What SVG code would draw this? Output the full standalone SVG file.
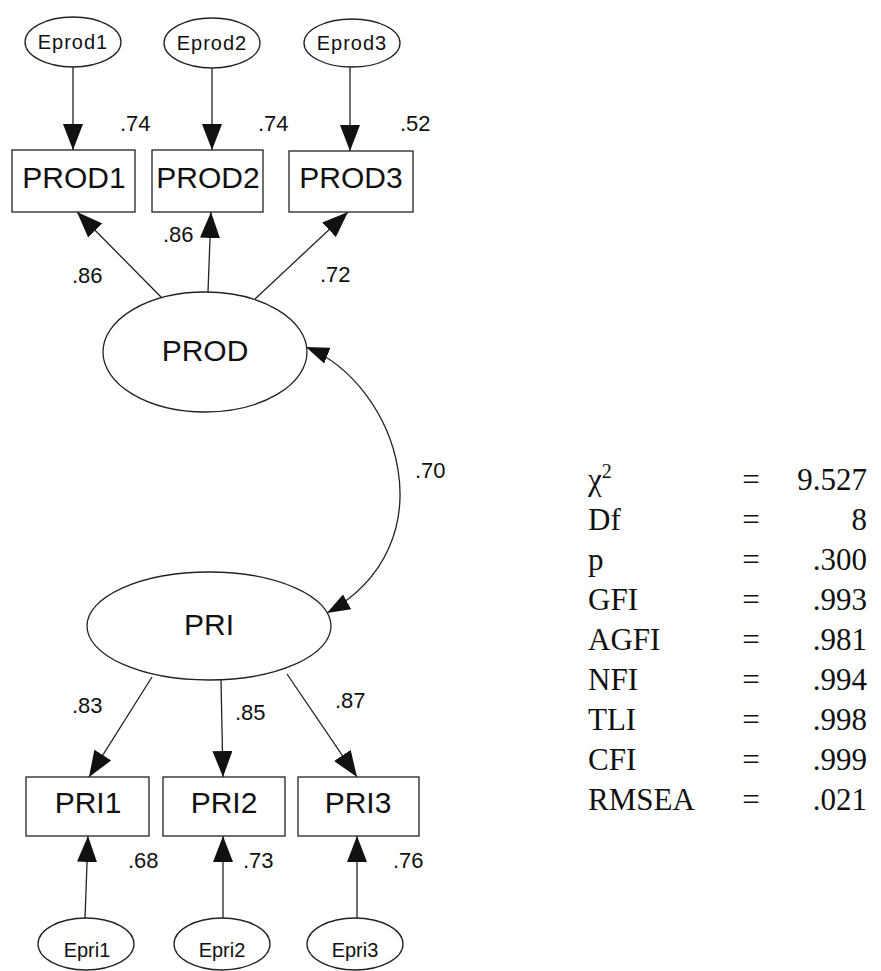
<svg xmlns="http://www.w3.org/2000/svg" width="881" height="971" viewBox="0 0 881 971">
<style>
.ln{fill:none;stroke:#222;stroke-width:1.3}
.sh{fill:#fff;stroke:#222;stroke-width:1.3}
.big{font-family:"Liberation Sans",Arial,sans-serif;font-size:30px;fill:#111;text-anchor:middle}
.err{font-family:"Liberation Sans",Arial,sans-serif;font-size:20px;fill:#111;text-anchor:middle}
.num{font-family:"Liberation Sans",Arial,sans-serif;font-size:22px;fill:#111}
.st{font-family:"Liberation Serif","Times New Roman",serif;font-size:31px;fill:#111}
</style>
<defs>
<marker id="ah" markerUnits="userSpaceOnUse" markerWidth="26" markerHeight="20" viewBox="0 0 26 20" refX="26" refY="10" orient="auto">
<path d="M0,0 L26,10 L0,20 z" fill="#111"/>
</marker>
<marker id="ahs" markerUnits="userSpaceOnUse" markerWidth="23" markerHeight="17" viewBox="0 0 23 17" refX="23" refY="8.5" orient="auto-start-reverse">
<path d="M0,0 L23,8.5 L0,17 z" fill="#111"/>
</marker>
</defs>
<rect width="881" height="971" fill="#fff"/>

<g id="connectors">
<line class="ln" x1="73" y1="67" x2="73" y2="150" marker-end="url(#ah)"/>
<line class="ln" x1="212" y1="67" x2="212" y2="150" marker-end="url(#ah)"/>
<line class="ln" x1="350" y1="67" x2="350" y2="151" marker-end="url(#ah)"/>
<line class="ln" x1="162" y1="298" x2="77" y2="212" marker-end="url(#ah)"/>
<line class="ln" x1="208" y1="292" x2="211" y2="212" marker-end="url(#ah)"/>
<line class="ln" x1="255" y1="299" x2="348" y2="212" marker-end="url(#ah)"/>
<path class="ln" d="M306,347 C400,385 450,545 327,613" marker-start="url(#ahs)" marker-end="url(#ahs)"/>
<line class="ln" x1="152" y1="677" x2="89" y2="777" marker-end="url(#ah)"/>
<line class="ln" x1="221" y1="680" x2="223" y2="777" marker-end="url(#ah)"/>
<line class="ln" x1="287" y1="674" x2="357" y2="777" marker-end="url(#ah)"/>
<line class="ln" x1="85" y1="918" x2="88" y2="836" marker-end="url(#ah)"/>
<line class="ln" x1="223" y1="918" x2="223" y2="836" marker-end="url(#ah)"/>
<line class="ln" x1="357" y1="918" x2="357" y2="836" marker-end="url(#ah)"/>
</g>

<g id="labels">
<text class="num" x="120" y="131">.74</text>
<text class="num" x="258" y="131">.74</text>
<text class="num" x="400" y="131">.52</text>
<text class="num" x="72" y="283">.86</text>
<text class="num" x="163" y="242">.86</text>
<text class="num" x="320" y="282">.72</text>
<text class="num" x="415" y="478">.70</text>
<text class="num" x="72" y="713">.83</text>
<text class="num" x="235" y="720">.85</text>
<text class="num" x="335" y="708">.87</text>
<text class="num" x="128" y="868">.68</text>
<text class="num" x="243" y="868">.73</text>
<text class="num" x="393" y="868">.76</text>
</g>

<g id="Eprod1"><ellipse class="sh" cx="73" cy="42" rx="48" ry="25"/><text class="err" x="73" y="49" letter-spacing="1">Eprod1</text></g>
<g id="Eprod2"><ellipse class="sh" cx="212" cy="43" rx="48" ry="25"/><text class="err" x="212" y="50" letter-spacing="1">Eprod2</text></g>
<g id="Eprod3"><ellipse class="sh" cx="352" cy="43" rx="48" ry="24"/><text class="err" x="352" y="50" letter-spacing="1">Eprod3</text></g>

<g id="PROD1"><rect class="sh" x="12" y="150" width="123" height="62"/><text class="big" x="74" y="188">PROD1</text></g>
<g id="PROD2"><rect class="sh" x="152" y="150" width="111" height="62"/><text class="big" x="208" y="188">PROD2</text></g>
<g id="PROD3"><rect class="sh" x="289" y="151" width="124" height="61"/><text class="big" x="351" y="188">PROD3</text></g>

<g id="PROD"><ellipse class="sh" cx="205" cy="352" rx="102" ry="60"/><text class="big" x="205" y="361">PROD</text></g>
<g id="PRI"><ellipse class="sh" cx="209" cy="626" rx="122" ry="54"/><text class="big" x="209" y="635">PRI</text></g>

<g id="PRI1"><rect class="sh" x="26" y="777" width="123" height="59"/><text class="big" x="88" y="813">PRI1</text></g>
<g id="PRI2"><rect class="sh" x="163" y="777" width="122" height="59"/><text class="big" x="224" y="813">PRI2</text></g>
<g id="PRI3"><rect class="sh" x="298" y="777" width="121" height="59"/><text class="big" x="358" y="813">PRI3</text></g>

<g id="Epri1"><ellipse class="sh" cx="86" cy="944" rx="48" ry="26"/><text class="err" x="87" y="957">Epri1</text></g>
<g id="Epri2"><ellipse class="sh" cx="222" cy="944" rx="48" ry="26"/><text class="err" x="222" y="957">Epri2</text></g>
<g id="Epri3"><ellipse class="sh" cx="355" cy="944" rx="48" ry="26"/><text class="err" x="355" y="957">Epri3</text></g>

<g id="fit-stats" class="st">
<text x="588" y="490">χ<tspan font-size="20" dy="-12">2</tspan></text>
<text x="588" y="530">Df</text>
<text x="588" y="570">p</text>
<text x="588" y="610">GFI</text>
<text x="588" y="650">AGFI</text>
<text x="588" y="690">NFI</text>
<text x="588" y="730">TLI</text>
<text x="588" y="770">CFI</text>
<text x="588" y="810">RMSEA</text>
<g text-anchor="middle">
<text x="751" y="490">=</text><text x="751" y="530">=</text><text x="751" y="570">=</text>
<text x="751" y="610">=</text><text x="751" y="650">=</text><text x="751" y="690">=</text>
<text x="751" y="730">=</text><text x="751" y="770">=</text><text x="751" y="810">=</text>
</g>
<g text-anchor="end">
<text x="867" y="490">9.527</text><text x="867" y="530">8</text><text x="867" y="570">.300</text>
<text x="867" y="610">.993</text><text x="867" y="650">.981</text><text x="867" y="690">.994</text>
<text x="867" y="730">.998</text><text x="867" y="770">.999</text><text x="867" y="810">.021</text>
</g>
</g>
</svg>
